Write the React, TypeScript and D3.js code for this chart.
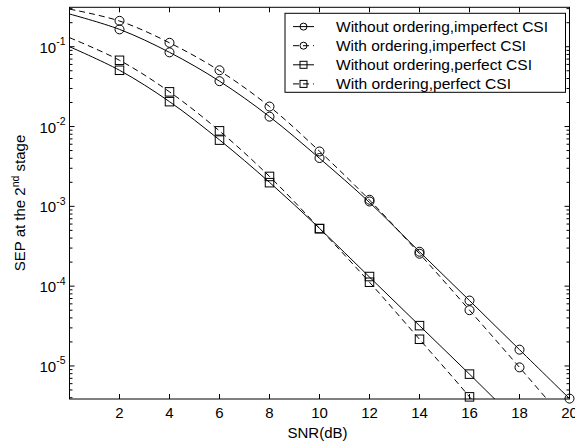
import React from "react";
import * as d3 from "d3";

// ---- data ----
const snrLine = [0, 2, 4, 6, 8, 10, 12, 14, 16, 18, 20];
const lineWithoutImperfect = [0.257, 0.165, 0.085, 0.037, 0.0133, 0.004, 0.00112, 2.7e-4, 6.6e-5, 1.6e-5, 3.9e-6];
const lineWithImperfect = [0.296, 0.21, 0.112, 0.05, 0.0178, 0.0049, 0.0012, 2.55e-4, 5.0e-5, 9.6e-6, 1.8e-6];
const lineWithoutPerfect = [0.1, 0.0507, 0.0205, 0.0068, 0.002, 5.3e-4, 1.3e-4, 3.2e-5, 7.9e-6, 1.9e-6, 4.6e-7];
const lineWithPerfect = [0.13, 0.0676, 0.0272, 0.0088, 0.00237, 5.3e-4, 1.12e-4, 2.16e-5, 4.1e-6, 7.0e-7, 1.2e-7];

const snrMarker = [2, 4, 6, 8, 10, 12, 14, 16, 18, 20];
const markWithoutImperfect = [0.165, 0.085, 0.037, 0.0133, 0.00403, 0.00115, 2.7e-4, 6.6e-5, 1.6e-5, 3.9e-6];
const markWithImperfect = [0.211, 0.112, 0.0507, 0.0178, 0.00487, 0.00121, 2.55e-4, 5.0e-5, 9.6e-6, 1.8e-6];
const markWithoutPerfect = [0.0507, 0.0205, 0.00676, 0.00198, 5.26e-4, 1.32e-4, 3.2e-5, 7.9e-6, 1.9e-6, 4.6e-7];
const markWithPerfect = [0.0676, 0.0272, 0.00883, 0.00237, 5.26e-4, 1.12e-4, 2.16e-5, 4.1e-6, 7.0e-7, 1.2e-7];

const seriesNames = [
  "Without ordering,imperfect CSI",
  "With ordering,imperfect CSI",
  "Without ordering,perfect CSI",
  "With ordering,perfect CSI",
];
const seriesDashed = [false, true, false, true];
const seriesMarker = ["circle", "circle", "square", "square"];
const seriesLines = [lineWithoutImperfect, lineWithImperfect, lineWithoutPerfect, lineWithPerfect];
const seriesMarks = [markWithoutImperfect, markWithImperfect, markWithoutPerfect, markWithPerfect];

const xTicks = [2, 4, 6, 8, 10, 12, 14, 16, 18, 20];
const yMajorExp = [-1, -2, -3, -4, -5];

// ---- layout ----
const W = 575;
const H = 445;
const L = 69.5;
const R = 569.5;
const T = 7.3;
const B = 399;
const FONT = "Arial, 'Liberation Sans', Helvetica, sans-serif";
const legendTextWidths = [212, 190, 196, 175];

const x = d3.scaleLinear().domain([0, 20]).range([L, R]);
const yMin = Math.pow(10, -5.414);
const yMax = Math.pow(10, -0.506);
const y = d3.scaleLog().domain([yMin, yMax]).range([B, T]);

function Marker({ type, cx, cy, size }: { type: string; cx: number; cy: number; size: number }) {
  if (type === "circle") {
    return <circle cx={cx} cy={cy} r={size / 2} fill="none" stroke="#000" strokeWidth={1} />;
  }
  return (
    <rect x={cx - size / 2} y={cy - size / 2} width={size} height={size} fill="none" stroke="#000" strokeWidth={1} />
  );
}

export default function App() {
  const line = d3
    .line<number>()
    .x((_, i) => x(snrLine[i]))
    .y((d) => y(d))
    .curve(d3.curveCatmullRom);

  const minorTicks: number[] = [];
  for (let e = -6; e <= 0; e++) {
    for (let m = 2; m <= 9; m++) {
      const v = m * Math.pow(10, e);
      if (v >= yMin && v <= yMax) minorTicks.push(v);
    }
  }

  const legX = 285;
  const legY = 13.3;
  const legW = 280.5;
  const legH = 79;
  const rowY = (i: number) => 26.6 + i * 19.1;

  return (
    <svg
      width={W}
      height={H}
      style={{ position: "absolute", left: 0, top: 0, display: "block", background: "#fff" }}
      fontFamily={FONT}
    >
      <defs>
        <clipPath id="plotclip">
          <rect x={L} y={T} width={R - L} height={B - T} />
        </clipPath>
      </defs>
      <rect x={0} y={0} width={W} height={H} fill="#fff" />

      {/* series lines */}
      <g clipPath="url(#plotclip)">
        {seriesLines.map((vals, i) => (
          <path
            key={i}
            d={line(vals) || ""}
            fill="none"
            stroke="#000"
            strokeWidth={1}
            strokeDasharray={seriesDashed[i] ? "6,4" : undefined}
          />
        ))}
      </g>

      {/* markers */}
      {seriesMarks.map((vals, i) =>
        vals.map((v, j) =>
          v >= yMin * 0.98 && v <= yMax ? (
            <Marker
              key={`${i}-${j}`}
              type={seriesMarker[i]}
              cx={x(snrMarker[j])}
              cy={y(v)}
              size={seriesMarker[i] === "circle" ? 9 : 8.5}
            />
          ) : null
        )
      )}

      {/* axes box */}
      <rect x={L} y={T} width={R - L} height={B - T} fill="none" stroke="#000" strokeWidth={1} />

      {/* x ticks */}
      {xTicks.map((t) => (
        <g key={`xt${t}`}>
          <line x1={x(t)} x2={x(t)} y1={B} y2={B - 5} stroke="#000" />
          <line x1={x(t)} x2={x(t)} y1={T} y2={T + 5} stroke="#000" />
          <text x={x(t)} y={418} textAnchor="middle" fontSize={15} fill="#000">
            {t}
          </text>
        </g>
      ))}

      {/* y major ticks */}
      {yMajorExp.map((e) => {
        const yy = y(Math.pow(10, e));
        return (
          <g key={`ym${e}`}>
            <line x1={L} x2={L + 5} y1={yy} y2={yy} stroke="#000" />
            <line x1={R} x2={R - 5} y1={yy} y2={yy} stroke="#000" />
            <text x={65.5} y={yy + 6} textAnchor="end" fontSize={15} fill="#000">
              10
              <tspan fontSize={10.5} dy={-7.5}>
                {String(e)}
              </tspan>
            </text>
          </g>
        );
      })}
      {minorTicks.map((v, k) => {
        const yy = y(v);
        return (
          <g key={`ymn${k}`}>
            <line x1={L} x2={L + 3} y1={yy} y2={yy} stroke="#000" />
            <line x1={R} x2={R - 3} y1={yy} y2={yy} stroke="#000" />
          </g>
        );
      })}

      {/* axis labels */}
      <text x={317.5} y={438} textAnchor="middle" fontSize={15} fill="#000">
        SNR(dB)
      </text>
      <text transform={`translate(25,203) rotate(-90)`} textAnchor="middle" fontSize={15} fill="#000">
        SEP at the 2
        <tspan fontSize={10.5} dy={-6}>
          nd
        </tspan>
        <tspan dy={6}> stage</tspan>
      </text>

      {/* legend */}
      <rect x={legX} y={legY} width={legW} height={legH} fill="#fff" stroke="#000" strokeWidth={1} />
      {seriesNames.map((name, i) => {
        const yy = rowY(i);
        return (
          <g key={`lg${i}`}>
            <line
              x1={293}
              x2={314}
              y1={yy}
              y2={yy}
              stroke="#000"
              strokeWidth={1}
              strokeDasharray={seriesDashed[i] ? "6,4" : undefined}
            />
            <Marker type={seriesMarker[i]} cx={303.5} cy={yy} size={7} />
            <text
              x={336}
              y={yy + 5.5}
              fontSize={15.5}
              fill="#000"
              textLength={legendTextWidths[i]}
              lengthAdjust="spacingAndGlyphs"
            >
              {name}
            </text>
          </g>
        );
      })}
    </svg>
  );
}
